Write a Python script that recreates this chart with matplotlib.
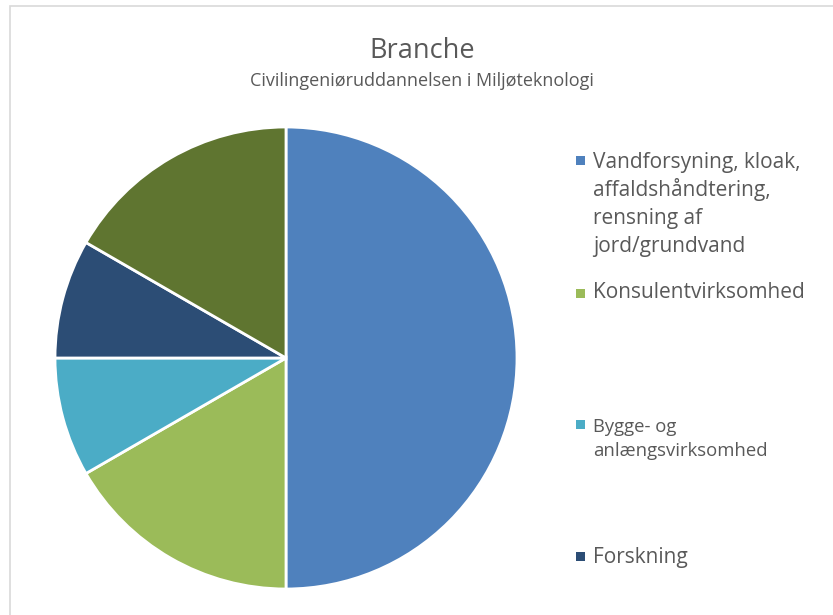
import matplotlib.pyplot as plt
from matplotlib.patches import Rectangle

# data
categories = ['Vandforsyning, kloak,\naffaldshåndtering,\nrensning af\njord/grundvand',
              'Konsulentvirksomhed',
              'Bygge- og\nanlængsvirksomhed',
              'Forskning',
              'Andet']
values = [6, 2, 1, 1, 2]
colors = ['#4F81BD', '#9BBB59', '#4BACC6', '#2C4D75', '#5F7530']

W, H = 833, 615
plt.rcParams['font.family'] = ['Open Sans', 'DejaVu Sans']

fig = plt.figure(figsize=(W / 100, H / 100), dpi=100)

# chart frame (right and bottom run past the image)
fig.patches.append(Rectangle((10 / W, -0.1), 1.1, 1 - 6 / H + 0.1,
                             transform=fig.transFigure, fill=False,
                             edgecolor='#D9D9D9', linewidth=1.2))

# pie axes, centre (286, 358), radius 231 px
cx, cy, r = 286, 358, 231
ax = fig.add_axes([(cx - r) / W, (H - cy - r) / H, 2 * r / W, 2 * r / H])
ax.pie(values, colors=colors, startangle=90, counterclock=False, radius=1,
       wedgeprops=dict(edgecolor='white', linewidth=2))
ax.set_xlim(-1, 1)
ax.set_ylim(-1, 1)
ax.set_aspect('auto')
ax.axis('off')

fig.text(422 / W, 1 - 58 / H, 'Branche', ha='center', va='baseline',
         fontsize=19.5, color='#595959')
fig.text(422 / W, 1 - 86 / H, 'Civilingeniøruddannelsen i Miljøteknologi',
         ha='center', va='baseline', fontsize=13, color='#595959')

# legend (only the first four entries fit)
marker_y = [160, 293, 424, 556]
first_base = [168, 298, 432, 563]
legend_size = [15, 15, 13.3, 15]
line_gap = [28, 28, 24, 28]
for i in range(4):
    fig.patches.append(Rectangle((576 / W, 1 - (marker_y[i] + 4.5) / H), 9 / W, 9 / H,
                                 transform=fig.transFigure,
                                 facecolor=colors[i], edgecolor='none'))
    for j, line in enumerate(categories[i].split('\n')):
        fig.text(593 / W, 1 - (first_base[i] + j * line_gap[i]) / H, line,
                 ha='left', va='baseline', fontsize=legend_size[i], color='#595959')

fig.savefig('out.png', dpi=100, facecolor='white')
